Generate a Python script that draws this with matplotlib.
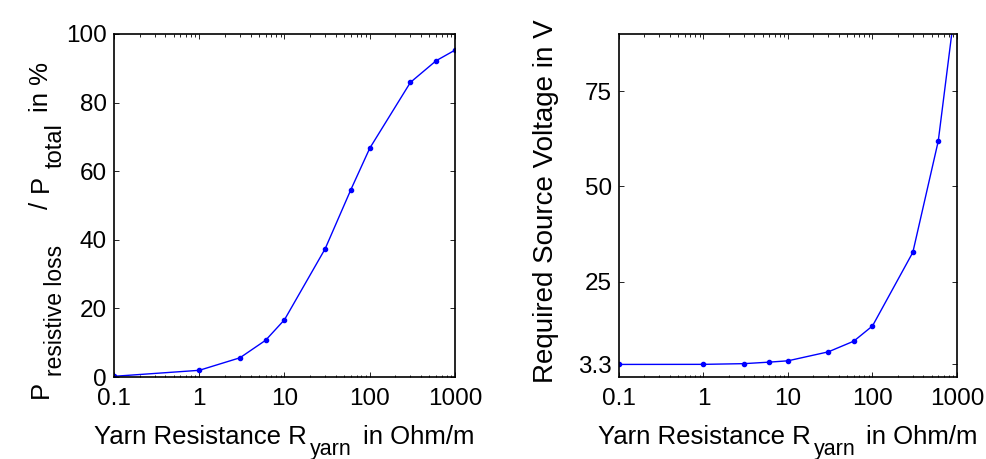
import matplotlib
matplotlib.use("Agg")
import matplotlib.pyplot as plt
from matplotlib.transforms import IdentityTransform
from matplotlib.ticker import LogLocator, FixedLocator, NullFormatter

plt.rcParams['font.family'] = ['Liberation Sans', 'DejaVu Sans']

# Yarn resistance in Ohm/m
resistance = [0.1, 1, 3, 6, 10, 30, 60, 100, 300, 600, 1000]
# Share of resistive loss in total power, %
loss_share = [0.2, 1.95, 5.6, 10.7, 16.7, 37.4, 54.6, 66.7, 85.9, 92.2, 95.3]
# Required source voltage, V
source_voltage = [3.3, 3.32, 3.5, 3.9, 4.25, 6.6, 9.4, 13.4, 32.7, 61.9, 101.0]

x_ticks = [0.1, 1, 10, 100, 1000]
x_ticklabels = ["0.1", "1", "10", "100", "1000"]
v_ticks = [3.3, 25, 50, 75]
v_ticklabels = ["3.3", "25", "50", "75"]

W, H = 987, 459
fig = plt.figure(figsize=(W / 100, H / 100), dpi=100)
ax1 = fig.add_axes([114 / W, 1 - 377 / H, 341 / W, 343 / H])
ax2 = fig.add_axes([619 / W, 1 - 377 / H, 338 / W, 343 / H])

tick_fs = 17.5
label_fs = 18.5
sub_fs = 15.5


def style_axis(ax):
    ax.set_xscale("log")
    ax.set_xlim(0.1, 1000)
    ax.xaxis.set_major_locator(FixedLocator(x_ticks))
    ax.set_xticklabels(x_ticklabels)
    ax.xaxis.set_minor_locator(LogLocator(base=10, subs=range(2, 10)))
    ax.xaxis.set_minor_formatter(NullFormatter())
    ax.tick_params(which="both", direction="in", top=True, right=True,
                   labelsize=tick_fs, width=0.6)
    ax.tick_params(axis="x", pad=8)
    ax.tick_params(axis="y", pad=5)
    ax.tick_params(which="major", length=3.5)
    ax.tick_params(which="minor", length=1.8)
    for s in ax.spines.values():
        s.set_linewidth(1.2)


def rich_text(parts, start, base, vertical=False):
    """Draw text pieces one after another (pixel coordinates).
    parts: (text, fontsize, drop, gap_before)."""
    renderer = fig.canvas.get_renderer()
    pos = start
    for text, size, drop, gap in parts:
        pos += gap
        if vertical:
            t = fig.text(base + drop, pos, text, fontsize=size, rotation=90,
                         rotation_mode="anchor", ha="left", va="baseline",
                         transform=IdentityTransform())
            pos += t.get_window_extent(renderer).height
        else:
            t = fig.text(pos, base - drop, text, fontsize=size,
                         ha="left", va="baseline",
                         transform=IdentityTransform())
            pos += t.get_window_extent(renderer).width


def x_label(ax):
    parts = [("Yarn Resistance R", label_fs, 0, 0),
             ("yarn", sub_fs, 11, 3),
             ("in Ohm/m", label_fs, 0, 11)]
    renderer = fig.canvas.get_renderer()
    total = 0
    for text, size, drop, gap in parts:
        t = fig.text(0, 0, text, fontsize=size)
        total += gap + t.get_window_extent(renderer).width
        t.remove()
    bb = ax.get_window_extent()
    centre = (bb.x0 + bb.x1) / 2
    rich_text(parts, centre - total / 2, H - 444)


ax1.plot(resistance, loss_share, color="blue", marker=".", markersize=6,
         linewidth=1)
style_axis(ax1)
ax1.set_ylim(0, 100)
ax1.set_yticks([0, 20, 40, 60, 80, 100])

ax2.plot(resistance, source_voltage, color="blue", marker=".", markersize=6,
         linewidth=1)
style_axis(ax2)
ax2.set_ylim(0, 90)
ax2.set_yticks(v_ticks)
ax2.set_yticklabels(v_ticklabels)

fig.canvas.draw()
x_label(ax1)
x_label(ax2)

# left y label: P_resistive loss / P_total in %
rich_text([("P", label_fs, 0, 0),
           ("resistive loss", 16.5, 14, 5),
           ("/", label_fs, 0, 36),
           ("P", label_fs, 0, 10),
           ("total", 17, 14, 6),
           ("in %", label_fs, 0, 12)],
          start=H - 398, base=48, vertical=True)

fig.text(553, H - 201, "Required Source Voltage in V", fontsize=20,
         rotation=90, rotation_mode="anchor", ha="center", va="baseline",
         transform=IdentityTransform())

fig.savefig("out.png", dpi=100)
